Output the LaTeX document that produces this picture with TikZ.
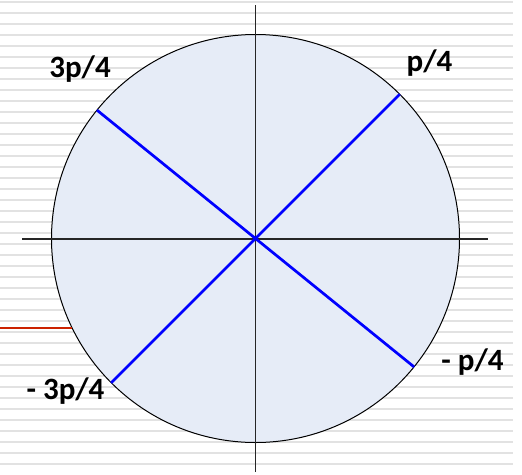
\documentclass[tikz,border=0pt]{standalone}
\usepackage{fontspec}
\setmainfont{Carlito}
\usetikzlibrary{arrows,shapes}
\definecolor{discfill}{RGB}{230,236,247}
\definecolor{ruled}{RGB}{226,226,226}
\definecolor{cutred}{RGB}{204,34,0}
\tikzstyle{disc}=[circle,draw=black,fill=discfill,line width=0.7pt,minimum size=285.6pt,inner sep=0pt,outer sep=0pt]
\tikzstyle{axis}=[line width=0.8pt,black!85]
\tikzstyle{diag}=[line width=1.9pt,blue]
\tikzstyle{lbl}=[anchor=base,inner sep=0pt,font=\fontsize{21.7}{24}\selectfont\bfseries]
\tikzstyle{rule}=[fill=ruled]

\begin{document}
\begin{tikzpicture}[x=0.7pt,y=-0.7pt]
\useasboundingbox (0,0) rectangle (522,474);
\foreach \k in {0,...,42} \fill[rule] (0,1+11*\k) rectangle (513,3+11*\k);
\node[disc] (c) at (255.5,238.5) {};
\coordinate (r) at (0,330);
\coordinate (t) at (255.5,5);\coordinate (b) at (255.5,472);
\coordinate (w) at (22,239);\coordinate (e) at (488,239);
\draw[line width=1.2pt,cutred](c.206.6 -| r)--(c.206.6);
\draw[axis](t)--(b);\draw[axis](w)--(e);
\draw[diag](c.45)--(c.225);
\draw[diag](c.141)--(c.321);
\node[lbl] (a3) at (80,77) {3p/4};
\node[lbl] (a1) at (429.5,71) {p/4};
\node[lbl] (m1) at (472.5,370) {- p/4};
\node[lbl] (m3) at (65.5,399) {- 3p/4};
\end{tikzpicture}
\end{document}
